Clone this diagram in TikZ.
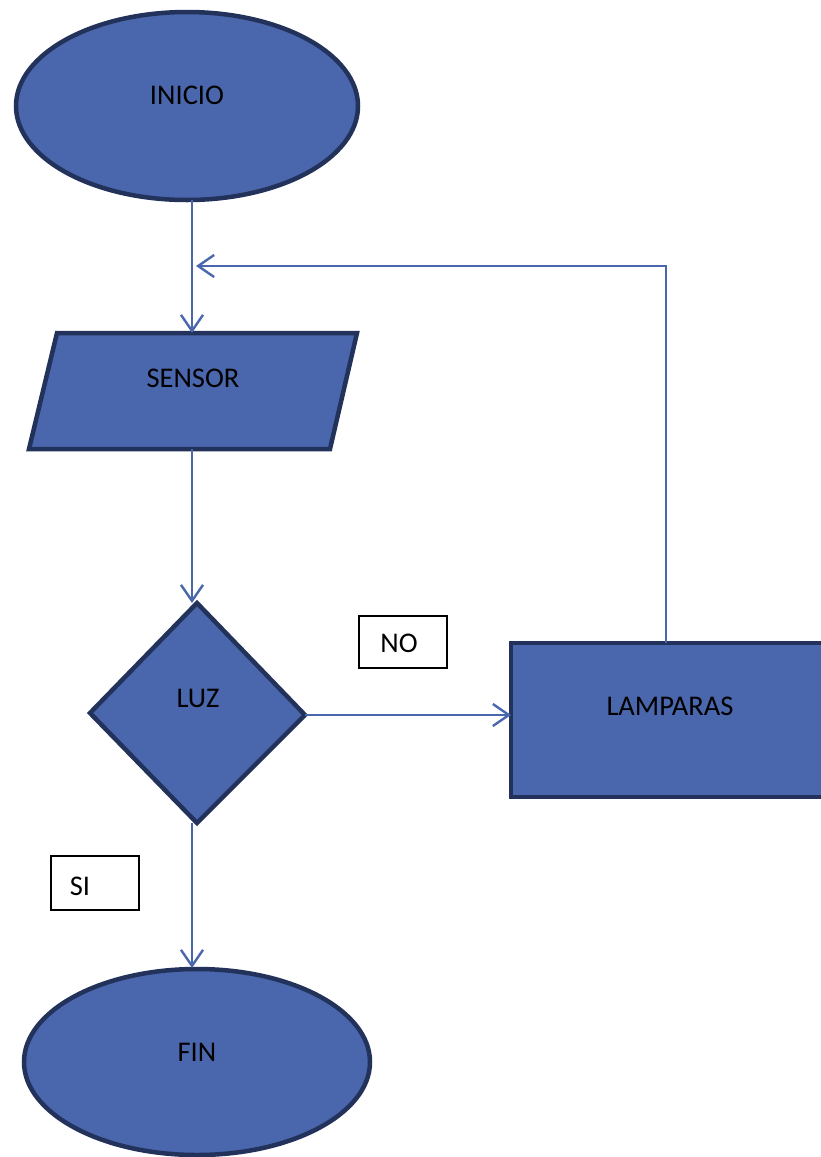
\documentclass[tikz,border=0pt]{standalone}
\usepackage{fontspec}
\setmainfont{Carlito}
\usetikzlibrary{arrows.meta,shapes.geometric}
\definecolor{shapefill}{HTML}{4A66AC}
\definecolor{shapeedge}{HTML}{22325A}
\definecolor{conn}{HTML}{4A66AC}
\tikzset{
  shapestyle/.style={fill=shapefill,draw=shapeedge,line width=4.5pt},
  termbox/.style={shapestyle,ellipse,inner sep=0pt,minimum width=342pt,minimum height=188pt},
  conline/.style={draw=conn,line width=2.4pt},
  conarrow/.style={conline,-{Straight Barb[length=16pt,width=22pt,line width=2.4pt]}},
  labelbox/.style={draw=black,line width=1.6pt,fill=white},
  txt/.style={font=\fontsize{28.5}{32}\selectfont,inner sep=0pt,text=black}
}
\begin{document}
\begin{tikzpicture}[x=1pt,y=-1pt]
\useasboundingbox (0,0) rectangle (820,1157);
% shapes
\node[termbox] (inicio) at (187,106) {};
\node[termbox,minimum width=346pt,minimum height=186pt] (fin) at (197,1062) {};
\draw[shapestyle] (57,333) -- (357,333) -- (330,449) -- (29,449) -- cycle;
\coordinate (sensorTop) at (192,333);
\coordinate (sensorBot) at (192,449);
\draw[shapestyle,miter limit=10] (197,603) -- (305,715) -- (197,823) -- (90,713) -- cycle;
\coordinate (luzTop) at (192,603);
\coordinate (luzRight) at (305,715);
\coordinate (luzBot) at (192,823);
\draw[shapestyle] (511,643) rectangle (840,797);
\coordinate (lampLeft) at (511,715);
\coordinate (lampTop) at (666,643);
% texts
\node[txt] (tInicio) at (187,95) {INICIO};
\node[txt] (tSensor) at (193,378) {SENSOR};
\node[txt] (tLuz) at (198,698) {LUZ};
\node[txt] (tLamp) at (670,706) {LAMPARAS};
\node[txt] (tFin) at (197,1052) {FIN};
% label boxes
\draw[labelbox] (359,616) rectangle (447,668);
\node[txt] (tNo) at (399,643) {NO};
\draw[labelbox] (51,856) rectangle (139,910);
\node[txt] (tSi) at (80,886) {SI};
% connectors
\coordinate (inicioBot) at (192,200);
\coordinate (loopCorner) at (666,266);
\coordinate (loopEnd) at (196,266);
\coordinate (finTop) at (192,968);
\draw[conarrow] (inicioBot) -- (sensorTop);
\draw[conarrow] (lampTop) -- (loopCorner) -- (loopEnd);
\draw[conarrow] (sensorBot) -- (luzTop);
\draw[conarrow] (luzRight) -- (lampLeft);
\draw[conarrow] (luzBot) -- (finTop);
\end{tikzpicture}
\end{document}
